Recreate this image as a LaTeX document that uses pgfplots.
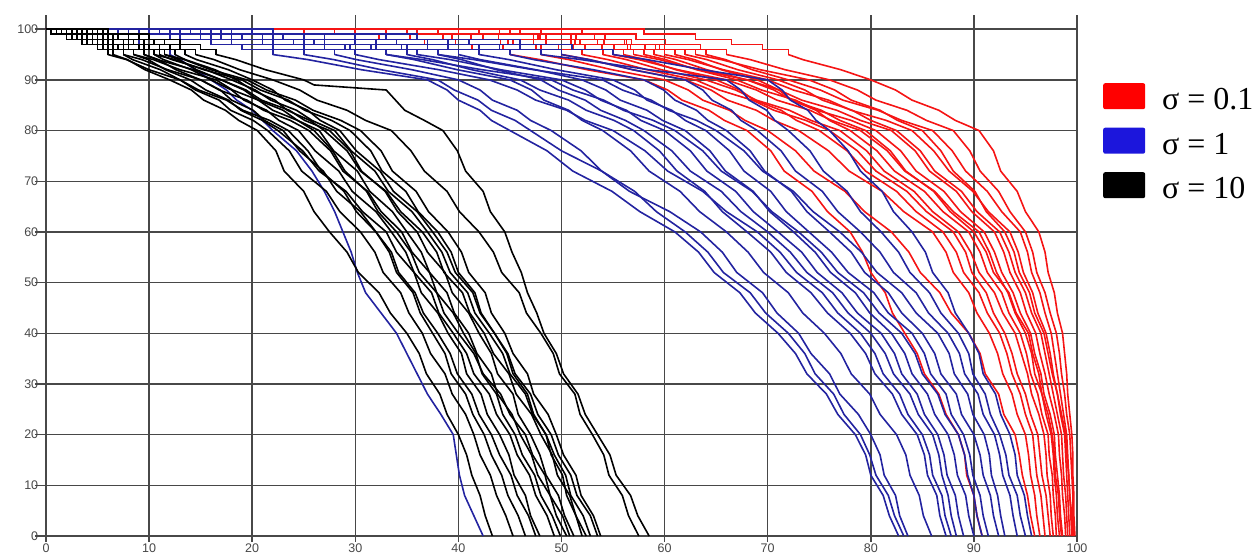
\documentclass[border=0pt]{standalone}
\usepackage{fontspec}
\setmainfont{Liberation Sans}
\newfontfamily\legfont{Liberation Serif}
\usepackage{pgfplots}
\pgfplotsset{compat=1.18}
\definecolor{linered}{RGB}{245,20,20}
\definecolor{lineblue}{RGB}{35,35,160}
\definecolor{legred}{RGB}{255,0,0}
\definecolor{legblue}{RGB}{28,22,220}
\definecolor{gridc}{RGB}{72,72,72}
\pgfplotsset{
 rt/.style={const plot, linered, line width=1.6pt, forget plot},
 rb/.style={sharp plot, linered, line width=1.6pt, forget plot, line join=round},
 bt/.style={const plot, lineblue, line width=1.6pt, forget plot},
 bb/.style={sharp plot, lineblue, line width=1.6pt, forget plot, line join=round},
 kt/.style={const plot, black, line width=1.6pt, forget plot},
 kb/.style={sharp plot, black, line width=1.6pt, forget plot, line join=round},
}
\begin{document}
\begin{tikzpicture}
\begin{axis}[
 scale only axis, width=1031pt, height=521pt,
 xmin=0, xmax=100, ymin=0, ymax=102.8,
 xtick={0,10,...,100}, ytick={0,10,...,100},
 axis line style={draw=none},
 grid=major, major grid style={draw=gridc, line width=1.4pt},
 tick align=outside, xtick pos=bottom, ytick pos=left,
 major tick style={draw=gridc, line width=1.4pt},
 xtick style={/pgfplots/major tick length=6pt},
 ytick style={/pgfplots/major tick length=11pt},
 /pgf/number format/assume math mode=true,
 ticklabel style={font=\fontsize{12.5}{14}\selectfont, text=black!72},
 legend image code/.code={\fill[#1, rounded corners=2pt] (0pt,-11pt) rectangle (42pt,15pt);},
 legend cell align=left,
 legend style={draw=none, fill=none, at={(axis description cs:1.0252,0.8695)}, anchor=north west,
   inner sep=0pt, nodes={inner sep=0pt, text height=23pt, text depth=0pt}, row sep=18pt, column sep=17pt,
   font=\legfont\fontsize{32}{36}\selectfont},
]
\addlegendimage{fill=legred, draw=none}
\addlegendentry{σ = 0.1}
\addlegendimage{fill=legblue, draw=none}
\addlegendentry{σ = 1}
\addlegendimage{fill=black, draw=none}
\addlegendentry{σ = 10}

% ---------- sigma = 0.1 (red) ----------
\addplot[rt] coordinates {(0,100)(58,99)(63,98)(66.5,97)(69.5,96)(72,95)};
\addplot[rb] coordinates {(72,95)(73.4,94)(77.1,92)(80,90)(82.4,88)(84,86)(86.6,84)(88.2,82)(90.5,80)(91.9,76)(92.6,72)(94.2,68)(95,64)(96.3,60)(96.9,56)(97.2,52)(97.8,48)(98.1,44)(98.6,40)(98.8,36)(99,32)(99.1,28)(99.3,24)(99.5,20)(99.6,16)(99.6,12)(99.7,8)(99.7,4)(99.8,0)};
\addplot[rt] coordinates {(0,100)(52,99)(57.2,98)(60.1,97)(63.5,96)(66,95)};
\addplot[rb] coordinates {(66,95)(68.3,94)(71.7,92)(76,90)(78.7,88)(80.5,86)(83.5,84)(85.4,82)(88,80)(89.6,76)(90.6,72)(92.4,68)(93.5,64)(95,60)(95.7,56)(96.1,52)(96.9,48)(97.4,44)(98,40)(98.3,36)(98.5,32)(98.8,28)(99,24)(99.3,20)(99.4,16)(99.5,12)(99.6,8)(99.6,4)(99.7,0)};
\addplot[rt] coordinates {(0,100)(45,99)(51.4,98)(56.8,97)(60,96)(64,95)};
\addplot[rb] coordinates {(64,95)(65.9,94)(68.5,92)(72,90)(75.1,88)(77.3,86)(80.7,84)(83,82)(86,80)(87.9,76)(89.2,72)(91.3,68)(92.7,64)(94.5,60)(95.2,56)(95.6,52)(96.4,48)(96.9,44)(97.5,40)(97.8,36)(98.1,32)(98.4,28)(98.7,24)(99,20)(99.1,16)(99.2,12)(99.3,8)(99.4,4)(99.5,0)};
\addplot[rt] coordinates {(0,100)(40,99)(47.3,98)(51.8,97)(56.4,96)(60,95)};
\addplot[rb] coordinates {(60,95)(62.3,94)(65.7,92)(70,90)(72.5,88)(75.9,86)(78.1,84)(81.5,82)(84,80)(86.1,76)(87.6,72)(89.9,68)(91.4,64)(93.5,60)(94.3,56)(94.8,52)(95.7,48)(96.2,44)(97,40)(97.4,36)(97.7,32)(98.1,28)(98.4,24)(98.8,20)(98.9,16)(99,12)(99.1,8)(99.2,4)(99.3,0)};
\addplot[rt] coordinates {(0,100)(48,99)(53.2,98)(56.1,97)(59.5,96)(62,95)};
\addplot[rb] coordinates {(62,95)(64.1,94)(67.1,92)(71,90)(73.6,88)(75.3,86)(78.2,84)(80,82)(82.5,80)(84.8,76)(86.2,72)(88.8,68)(90.3,64)(92.5,60)(93.4,56)(94,52)(95,48)(95.6,44)(96.5,40)(96.9,36)(97.3,32)(97.7,28)(98.1,24)(98.5,20)(98.6,16)(98.7,12)(98.9,8)(99,4)(99.1,0)};
\addplot[rt] coordinates {(0,100)(35,99)(42.4,98)(48.5,97)(52.3,96)(57,95)};
\addplot[rb] coordinates {(57,95)(59.5,94)(63.3,92)(68,90)(71.1,88)(73.3,86)(76.7,84)(79,82)(82,80)(84.3,76)(85.7,72)(88.3,68)(89.8,64)(92,60)(92.9,56)(93.5,52)(94.5,48)(95.1,44)(96,40)(96.4,36)(96.9,32)(97.3,28)(97.8,24)(98.2,20)(98.3,16)(98.5,12)(98.6,8)(98.8,4)(98.9,0)};
\addplot[rt] coordinates {(0,100)(42,99)(47.9,98)(51.3,97)(55.1,96)(58,95)};
\addplot[rb] coordinates {(58,95)(60.1,94)(63.1,92)(67,90)(69.4,88)(72.7,86)(74.8,84)(78.1,82)(80.5,80)(82.9,76)(84.4,72)(87.1,68)(88.7,64)(91,60)(92,56)(92.7,52)(93.8,48)(94.5,44)(95.5,40)(95.9,36)(96.5,32)(96.8,28)(97.4,24)(97.8,20)(97.9,16)(98.1,12)(98.3,8)(98.4,4)(98.6,0)};
\addplot[rt] coordinates {(0,100)(30,99)(38.5,98)(45.3,97)(49.7,96)(55,95)};
\addplot[rb] coordinates {(55,95)(57.5,94)(61.3,92)(66,90)(68.9,88)(70.9,86)(74.1,84)(76.2,82)(79,80)(81.6,76)(83.3,72)(86.2,68)(88,64)(90.5,60)(91.5,56)(92.2,52)(93.3,48)(94,44)(95,40)(95.6,36)(95.9,32)(96.6,28)(97,24)(97.5,20)(97.7,16)(97.8,12)(98,8)(98.1,4)(98.3,0)};
\addplot[rt] coordinates {(0,100)(50,99)(54.2,98)(56.3,97)(59.1,96)(61,95)};
\addplot[rb] coordinates {(61,95)(62.9,94)(65.5,92)(69,90)(71.1,88)(72.3,86)(74.7,84)(76,82)(78,80)(80.6,76)(82.3,72)(85.2,68)(87,64)(89.5,60)(90.6,56)(91.3,52)(92.7,48)(93.4,44)(94.5,40)(95.1,36)(95.5,32)(96.2,28)(96.6,24)(97.2,20)(97.3,16)(97.6,12)(97.7,8)(97.9,4)(98,0)};
\addplot[rt] coordinates {(0,100)(38,99)(43.9,98)(47.3,97)(51.1,96)(54,95)};
\addplot[rb] coordinates {(54,95)(56.3,94)(59.7,92)(64,90)(66.9,88)(68.9,86)(72.1,84)(74.2,82)(77,80)(79.6,76)(81.3,72)(84.2,68)(86,64)(88.5,60)(89.7,56)(90.5,52)(92,48)(92.8,44)(94,40)(94.6,36)(95.2,32)(95.6,28)(96.3,24)(96.8,20)(97,16)(97.1,12)(97.4,8)(97.5,4)(97.7,0)};
\addplot[rt] coordinates {(0,100)(33,99)(39.4,98)(44.8,97)(48,96)(52,95)};
\addplot[rb] coordinates {(52,95)(54.5,94)(58.3,92)(63,90)(65.3,88)(68.5,86)(70.6,84)(73.7,82)(76,80)(78.7,76)(80.5,72)(83.5,68)(85.4,64)(88,60)(89.2,56)(89.8,52)(91.2,48)(91.9,44)(93,40)(93.7,36)(94.2,32)(95,28)(95.5,24)(96.2,20)(96.4,16)(96.6,12)(97,8)(97.2,4)(97.4,0)};
\addplot[rt] coordinates {(0,100)(44,99)(48.5,98)(50.9,97)(53.9,96)(56,95)};
\addplot[rb] coordinates {(56,95)(58.1,94)(61.1,92)(65,90)(67.3,88)(68.7,86)(71.3,84)(72.8,82)(75,80)(77.7,76)(79.5,72)(82.5,68)(84.4,64)(87,60)(88.3,56)(89,52)(90.5,48)(91.3,44)(92.5,40)(93.2,36)(93.7,32)(94.5,28)(95,24)(95.7,20)(95.9,16)(96.1,12)(96.5,8)(96.7,4)(96.9,0)};
\addplot[rt] coordinates {(0,100)(36,99)(41.2,98)(44.1,97)(47.5,96)(50,95)};
\addplot[rb] coordinates {(50,95)(52.7,94)(56.9,92)(62,90)(64.5,88)(66.1,86)(68.9,84)(70.6,82)(73,80)(75.9,76)(77.9,72)(81.1,68)(83.2,64)(86,60)(87.3,56)(88,52)(89.5,48)(90.3,44)(91.5,40)(92.3,36)(92.8,32)(93.7,28)(94.2,24)(95,20)(95.3,16)(95.5,12)(95.9,8)(96.1,4)(96.4,0)};
\addplot[rt] coordinates {(0,100)(28,99)(35.3,98)(39.7,97)(44.3,96)(48,95)};
\addplot[rb] coordinates {(48,95)(50.7,94)(54.9,92)(60,90)(62.3,88)(63.7,86)(66.3,84)(67.8,82)(70,80)(72.7,76)(74.5,72)(77.5,68)(79.4,64)(82,60)(83.7,56)(84.8,52)(86.7,48)(87.8,44)(89.5,40)(90.6,36)(91.1,32)(92.4,28)(92.9,24)(94,20)(94.4,16)(94.7,12)(95.2,8)(95.5,4)(95.9,0)};
\addplot[rt] coordinates {(0,100)(25,99)(32.3,98)(36.7,97)(41.3,96)(45,95)};
\addplot[rb] coordinates {(45,95)(47.9,94)(52.5,92)(58,90)(60.3,88)(61.7,86)(64.3,84)(65.8,82)(68,80)(70.3,76)(71.6,72)(74.3,68)(75.8,64)(78,60)(79.2,56)(80,52)(81.4,48)(82.1,44)(83.3,40)(84.5,36)(85.2,32)(86.6,28)(87.3,24)(88.5,20)(89.1,16)(89.3,12)(90,8)(90.3,4)(90.8,0)};
\addplot[rt] coordinates {(0,100)(46,99)(50.9,98)(53.5,97)(56.7,96)(59,95)};
\addplot[rb] coordinates {(59,95)(61.1,94)(64.1,92)(68,90)(70.6,88)(72.3,86)(75.2,84)(77,82)(79.5,80)(81.9,76)(83.4,72)(86.1,68)(87.7,64)(90,60)(91.2,56)(91.9,52)(93.4,48)(94.1,44)(95.3,40)(95.7,36)(96.3,32)(96.6,28)(97.2,24)(97.6,20)(97.8,16)(97.9,12)(98.2,8)(98.3,4)(98.5,0)};
\addplot[rt] coordinates {(0,100)(40,99)(47.7,98)(54.1,97)(58.1,96)(63,95)};
\addplot[rb] coordinates {(63,95)(65.5,94)(69.3,92)(74,90)(76.5,88)(78.1,86)(80.9,84)(82.6,82)(85,80)(86.8,76)(88,72)(90.1,68)(91.2,64)(93,60)(93.9,56)(94.4,52)(95.4,48)(95.9,44)(96.8,40)(97.2,36)(97.6,32)(98.1,28)(98.5,24)(98.9,20)(99,16)(99.2,12)(99.3,8)(99.5,4)(99.6,0)};

% ---------- sigma = 1 (blue) ----------
\addplot[bt] coordinates {(0,100)(7,99)(12,98)(16,97)(19,96)(22,95)};
\addplot[bb] coordinates {(22,95)(25.4,94)(30.6,92)(37,90)(38.9,88)(40,86)(42.1,84)(43.2,82)(45,80)(48.6,76)(51.1,72)(54.9,68)(57.6,64)(61,60)(63.3,56)(64.8,52)(67.3,48)(68.8,44)(71,40)(72.7,36)(73.8,32)(75.7,28)(76.8,24)(78.5,20)(79.5,16)(80,12)(81.2,8)(81.8,4)(82.7,0)};
\addplot[bt] coordinates {(0,100)(9,99)(16,98)(21,97)(25,96)(28,95)};
\addplot[bb] coordinates {(28,95)(30.1,94)(35.5,92)(40,90)(42.1,88)(43.3,86)(45.7,84)(47,82)(49,80)(51.9,76)(53.9,72)(57.1,68)(59.2,64)(62,60)(64.2,56)(65.7,52)(68.3,48)(69.8,44)(72,40)(73.6,36)(74.6,32)(76.4,28)(77.4,24)(79,20)(79.9,16)(80.5,12)(81.7,8)(82.3,4)(83.2,0)};
\addplot[bt] coordinates {(0,100)(6,99)(13,98)(18,97)(22,96)(25,95)};
\addplot[bb] coordinates {(25,95)(27.9,94)(32.5,92)(38,90)(39.6,88)(41.9,86)(43.2,84)(45.5,82)(47,80)(50,76)(53.9,72)(56.6,68)(60.5,64)(63.5,60)(65.6,56)(67,52)(69.5,48)(70.9,44)(73,40)(74.2,36)(76,32)(77,28)(78.8,24)(80,20)(80.9,16)(81.3,12)(82.4,8)(82.8,4)(83.6,0)};
\addplot[bt] coordinates {(0,100)(11,99)(19,98)(25,97)(29.5,96)(33,95)};
\addplot[bb] coordinates {(33,95)(35.7,94)(39.9,92)(45,90)(47.1,88)(48.3,86)(50.7,84)(52,82)(54,80)(56.7,76)(58.5,72)(61.5,68)(63.4,64)(66,60)(68.1,56)(69.6,52)(72,48)(73.4,44)(75.5,40)(77.1,36)(78.1,32)(79.9,28)(80.9,24)(82.5,20)(83.4,16)(83.8,12)(84.7,8)(85.1,4)(85.9,0)};
\addplot[bt] coordinates {(0,100)(13,99)(21,98)(27,97)(31.5,96)(35,95)};
\addplot[bb] coordinates {(35,95)(37.5,94)(41.3,92)(46,90)(47.9,88)(50.7,86)(52.4,84)(55.1,82)(57,80)(59.5,76)(61.2,72)(63.9,68)(65.6,64)(68,60)(70.3,56)(71.8,52)(74.2,48)(75.8,44)(78,40)(79.5,36)(80.4,32)(82.1,28)(83,24)(84.5,20)(85.2,16)(85.5,12)(86.4,8)(86.7,4)(87.3,0)};
\addplot[bt] coordinates {(0,100)(8,99)(15,98)(22,97)(27,96)(30,95)};
\addplot[bb] coordinates {(30,95)(32.3,94)(38.1,92)(43,90)(45.7,88)(47.5,86)(50.5,84)(52.3,82)(55,80)(58.1,76)(60.3,72)(63.7,68)(66,64)(69,60)(71.2,56)(72.8,52)(75.3,48)(76.8,44)(79,40)(80.4,36)(81.2,32)(82.8,28)(83.6,24)(85,20)(85.7,16)(86,12)(86.9,8)(87.2,4)(87.8,0)};
\addplot[bt] coordinates {(0,100)(14,99)(23,98)(30,97)(34.5,96)(38,95)};
\addplot[bb] coordinates {(38,95)(40.3,94)(43.7,92)(48,90)(49.7,88)(52.3,86)(53.8,84)(56.2,82)(58,80)(60.7,76)(62.5,72)(65.5,68)(67.4,64)(70,60)(72.2,56)(73.8,52)(76.3,48)(77.8,44)(80,40)(81.4,36)(82.2,32)(83.8,28)(84.6,24)(86,20)(86.6,16)(86.9,12)(87.5,8)(87.8,4)(88.3,0)};
\addplot[bt] coordinates {(0,100)(10,99)(18,98)(26,97)(32,96)(36,95)};
\addplot[bb] coordinates {(36,95)(39.2,94)(44.1,92)(50,90)(52.3,88)(53.8,86)(56.3,84)(57.7,82)(60,80)(62.5,76)(64.1,72)(66.9,68)(68.6,64)(71,60)(73.3,56)(74.8,52)(77.2,48)(78.7,44)(81,40)(82.3,36)(83,32)(84.5,28)(85.2,24)(86.5,20)(87.1,16)(87.4,12)(88.2,8)(88.5,4)(89,0)};
\addplot[bt] coordinates {(0,100)(15,99)(25,98)(32,97)(37,96)(40,95)};
\addplot[bb] coordinates {(40,95)(42.1,94)(47.5,92)(52,90)(54.3,88)(55.7,86)(58.3,84)(59.8,82)(62,80)(64.4,76)(65.9,72)(68.6,68)(70.2,64)(72.5,60)(74.6,56)(76.1,52)(78.5,48)(79.9,44)(82,40)(83.3,36)(84,32)(85.5,28)(86.2,24)(87.5,20)(88.1,16)(88.4,12)(89.2,8)(89.5,4)(90,0)};
\addplot[bt] coordinates {(0,100)(9,99)(17,98)(24,97)(29,96)(33,95)};
\addplot[bb] coordinates {(33,95)(36.5,94)(42.3,92)(49,90)(51.1,88)(54.1,86)(56,84)(58.9,82)(61,80)(63.7,76)(65.5,72)(68.5,68)(70.4,64)(73,60)(75.2,56)(76.8,52)(79.3,48)(80.8,44)(83,40)(84.3,36)(85,32)(86.5,28)(87.2,24)(88.5,20)(89.1,16)(89.4,12)(90,8)(90.3,4)(90.8,0)};
\addplot[bt] coordinates {(0,100)(16,99)(27,98)(34,97)(39,96)(42,95)};
\addplot[bb] coordinates {(42,95)(44.9,94)(49.5,92)(55,90)(57.1,88)(58.3,86)(60.7,84)(62,82)(64,80)(66.3,76)(67.7,72)(70.3,68)(71.8,64)(74,60)(76.2,56)(77.8,52)(80.3,48)(81.7,44)(84,40)(85.2,36)(85.8,32)(87.3,28)(87.8,24)(89,20)(89.6,16)(89.9,12)(90.6,8)(90.9,4)(91.4,0)};
\addplot[bt] coordinates {(0,100)(18,99)(30,98)(37,97)(42,96)(45,95)};
\addplot[bb] coordinates {(45,95)(47.3,94)(53.1,92)(58,90)(59.9,88)(61,86)(63.1,84)(64.2,82)(66,80)(68.3,76)(69.7,72)(72.3,68)(73.8,64)(76,60)(78.1,56)(79.4,52)(81.7,48)(83,44)(85,40)(86.2,36)(86.8,32)(88.3,28)(88.8,24)(90,20)(90.6,16)(90.9,12)(91.6,8)(91.9,4)(92.4,0)};
\addplot[bt] coordinates {(0,100)(12,99)(22,98)(30,97)(35,96)(38,95)};
\addplot[bb] coordinates {(38,95)(41.5,94)(47.3,92)(54,90)(55.9,88)(58.7,86)(60.4,84)(63.1,82)(65,80)(67.7,76)(69.5,72)(72.5,68)(74.4,64)(77,60)(79.1,56)(80.6,52)(83,48)(84.4,44)(86.5,40)(87.6,36)(88.1,32)(89.4,28)(89.9,24)(91,20)(91.5,16)(91.7,12)(92.3,8)(92.6,4)(93,0)};
\addplot[bt] coordinates {(0,100)(20,99)(33,98)(41,97)(46,96)(50,95)};
\addplot[bb] coordinates {(50,95)(52.7,94)(56.9,92)(62,90)(63.7,88)(64.6,86)(66.5,84)(67.4,82)(69,80)(71.3,76)(72.7,72)(75.3,68)(76.8,64)(79,60)(80.9,56)(82.2,52)(84.4,48)(85.6,44)(87.5,40)(88.6,36)(89.1,32)(90.4,28)(90.9,24)(92,20)(92.5,16)(92.8,12)(93.5,8)(93.8,4)(94.2,0)};
\addplot[bt] coordinates {(0,100)(17,99)(30,98)(39,97)(44,96)(48,95)};
\addplot[bb] coordinates {(48,95)(51.9,94)(58.5,92)(66,90)(67.4,88)(68.2,86)(69.9,84)(70.7,82)(72,80)(74.1,76)(75.4,72)(77.7,68)(79,64)(81,60)(82.7,56)(83.8,52)(85.7,48)(86.8,44)(88.5,40)(89.5,36)(89.9,32)(91.1,28)(91.6,24)(92.5,20)(93.1,16)(93.4,12)(94.2,8)(94.5,4)(95,0)};
\addplot[bt] coordinates {(0,100)(22,99)(36,98)(46,97)(51,96)(55,95)};
\addplot[bb] coordinates {(55,95)(58.3,94)(63.7,92)(70,90)(71.4,88)(72.2,86)(73.9,84)(74.7,82)(76,80)(77.8,76)(79,72)(81.1,68)(82.2,64)(84,60)(85.3,56)(86,52)(87.5,48)(88.2,44)(89.5,40)(90.5,36)(90.9,32)(92.1,28)(92.6,24)(93.5,20)(94,16)(94.2,12)(94.9,8)(95.2,4)(95.6,0)};
\addplot[bt] coordinates {(0,100)(3,99)(6,98)(9,97)(11,96)(12,95)};
\addplot[bb] coordinates {(12,95)(13,94)(14.5,92)(16,90)(17.5,88)(18.5,86)(20,84)(21,82)(22,80)(24.3,76)(25.8,72)(27,68)(28,64)(28.8,60)(29.6,56)(30.2,52)(31,48)(32.5,44)(34,40)(35,36)(36,32)(37,28)(38.3,24)(39.5,20)(39.8,16)(40.1,12)(40.6,8)(41.5,4)(42.4,0)};

% ---------- sigma = 10 (black) ----------
\addplot[kt] coordinates {(0,100)(1,99)(2.5,98)(4,97)(5.5,96)(6.5,95)};
\addplot[kb] coordinates {(6.5,95)(7.9,94)(9.6,92)(12,90)(14.1,88)(15.3,86)(17.4,84)(18.7,82)(20.5,80)(22.3,76)(23.1,72)(25,68)(26,64)(27.5,60)(29.2,56)(30.3,52)(32.3,48)(33.4,44)(35,40)(36.2,36)(36.9,32)(38.2,28)(38.9,24)(40,20)(40.8,16)(41.3,12)(42.1,8)(42.6,4)(43.3,0)};
\addplot[kt] coordinates {(0,100)(1.5,99)(3,98)(4.5,97)(6,96)(7.5,95)};
\addplot[kb] coordinates {(7.5,95)(8.4,94)(11.1,92)(13,90)(14.5,88)(16.8,86)(17.9,84)(20.1,82)(21.5,80)(23.6,76)(24.8,72)(27.2,68)(28.5,64)(30.5,60)(31.9,56)(32.7,52)(34.4,48)(35.2,44)(36.5,40)(37.3,36)(38.7,32)(39.4,28)(40.7,24)(41.5,20)(42.1,16)(43.1,12)(43.7,8)(44.6,4)(45.3,0)};
\addplot[kt] coordinates {(0,100)(0.5,99)(2,98)(3.5,97)(5,96)(6,95)};
\addplot[kb] coordinates {(6,95)(7.8,94)(10,92)(13,90)(14.8,88)(17.5,86)(19.1,84)(21.7,82)(23.5,80)(25.4,76)(26.7,72)(28.9,68)(30.1,64)(32,60)(33.3,56)(34,52)(35.6,48)(36.3,44)(37.5,40)(38.7,36)(39.3,32)(40.7,28)(41.4,24)(42.5,20)(43.2,16)(44.2,12)(44.8,8)(45.8,4)(46.5,0)};
\addplot[kt] coordinates {(0,100)(3,99)(5,98)(6.5,97)(8,96)(9.5,95)};
\addplot[kb] coordinates {(9.5,95)(10.9,94)(12.6,92)(15,90)(16.9,88)(18,86)(20.1,84)(21.2,82)(23,80)(24.6,76)(26.9,72)(28.2,68)(30.5,64)(32,60)(33.5,56)(34.2,52)(35.8,48)(36.6,44)(38,40)(39.2,36)(39.9,32)(41.3,28)(42,24)(43.2,20)(44,16)(45.1,12)(45.7,8)(46.8,4)(47.5,0)};
\addplot[kt] coordinates {(0,100)(2,99)(4,98)(6,97)(7.5,96)(8.5,95)};
\addplot[kb] coordinates {(8.5,95)(9.9,94)(11.6,92)(14,90)(15.5,88)(17.7,86)(18.9,84)(21,82)(22.5,80)(24.9,76)(26.5,72)(29.1,68)(30.7,64)(33,60)(34,56)(35.7,52)(36.4,48)(38,44)(39,40)(40.3,36)(40.8,32)(42.2,28)(42.8,24)(44,20)(44.9,16)(45.4,12)(46.5,8)(47,4)(47.9,0)};
\addplot[kt] coordinates {(0,100)(3.5,99)(5.5,98)(7.5,97)(9,96)(10.5,95)};
\addplot[kb] coordinates {(10.5,95)(11.4,94)(14.1,92)(16,90)(18,88)(19.2,86)(21.4,84)(22.6,82)(24.5,80)(26.1,76)(28.4,72)(29.7,68)(32,64)(33.5,60)(34.9,56)(35.7,52)(37.4,48)(38.1,44)(39.5,40)(40.8,36)(41.5,32)(43,28)(43.7,24)(45,20)(45.7,16)(46.9,12)(47.5,8)(48.6,4)(49.3,0)};
\addplot[kt] coordinates {(0,100)(2,99)(3.5,98)(5,97)(6.5,96)(7.5,95)};
\addplot[kb] coordinates {(7.5,95)(9.3,94)(11.8,92)(15,90)(16.8,88)(19.5,86)(21.1,84)(23.7,82)(25.5,80)(27.6,76)(28.8,72)(31.2,68)(32.5,64)(34.5,60)(35.5,56)(37.2,52)(37.9,48)(39.5,44)(40.5,40)(41.7,36)(42.3,32)(43.7,28)(44.3,24)(45.5,20)(46.2,16)(47.4,12)(48,8)(49.1,4)(49.9,0)};
\addplot[kt] coordinates {(0,100)(4,99)(6.5,98)(8.5,97)(10,96)(11.5,95)};
\addplot[kb] coordinates {(11.5,95)(12.9,94)(14.6,92)(17,90)(19.2,88)(20.6,86)(23,84)(24.4,82)(26.5,80)(27.9,76)(30.2,72)(31.4,68)(33.6,64)(35,60)(36.4,56)(37.2,52)(38.9,48)(39.6,44)(41,40)(41.8,36)(43.2,32)(43.8,28)(45.2,24)(46,20)(47.1,16)(47.7,12)(48.9,8)(49.5,4)(50.5,0)};
\addplot[kt] coordinates {(0,100)(2.5,99)(4.5,98)(6.5,97)(8,96)(9.5,95)};
\addplot[kb] coordinates {(9.5,95)(10.8,94)(14.3,92)(17,90)(19.4,88)(20.9,86)(23.6,84)(25.1,82)(27.5,80)(29.5,76)(30.6,72)(32.9,68)(34.1,64)(36,60)(37,56)(38.7,52)(39.4,48)(41,44)(42,40)(43.2,36)(43.8,32)(45.3,28)(45.8,24)(47,20)(47.9,16)(48.5,12)(49.7,8)(50.3,4)(51.2,0)};
\addplot[kt] coordinates {(0,100)(4.5,99)(7,98)(9.5,97)(11,96)(12.5,95)};
\addplot[kb] coordinates {(12.5,95)(13.5,94)(16.4,92)(18.5,90)(20,88)(22.2,86)(23.4,84)(25.6,82)(27,80)(29.2,76)(30.5,72)(33,68)(34.4,64)(36.5,60)(37.9,56)(38.6,52)(40.4,48)(41.1,44)(42.5,40)(43.4,36)(44.9,32)(45.6,28)(47.1,24)(48,20)(49.1,16)(49.6,12)(50.8,8)(51.4,4)(52.4,0)};
\addplot[kt] coordinates {(0,100)(3,99)(5,98)(7.5,97)(9,96)(10.5,95)};
\addplot[kb] coordinates {(10.5,95)(12.5,94)(15.3,92)(19,90)(20.8,88)(23.5,86)(25.1,84)(27.7,82)(29.5,80)(31.5,76)(32.6,72)(34.9,68)(36.1,64)(38,60)(39.3,56)(40,52)(41.6,48)(42.2,44)(43.5,40)(44.7,36)(45.3,32)(46.7,28)(47.3,24)(48.5,20)(49.3,16)(50.4,12)(50.9,8)(52.1,4)(52.8,0)};
\addplot[kt] coordinates {(0,100)(5,99)(8,98)(10.5,97)(12,96)(13.5,95)};
\addplot[kb] coordinates {(13.5,95)(14.6,94)(17.7,92)(20,90)(22,88)(23.2,86)(25.4,84)(26.6,82)(28.5,80)(30.1,76)(32.4,72)(33.7,68)(36,64)(37.5,60)(38.9,56)(39.7,52)(41.4,48)(42.1,44)(43.5,40)(44.8,36)(45.5,32)(47,28)(47.7,24)(49,20)(49.7,16)(50.9,12)(51.5,8)(52.8,4)(53.5,0)};
\addplot[kt] coordinates {(0,100)(3.5,99)(6,98)(8.5,97)(10,96)(11.5,95)};
\addplot[kb] coordinates {(11.5,95)(13.4,94)(16,92)(19.5,90)(21.4,88)(24.2,86)(25.9,84)(28.6,82)(30.5,80)(32.5,76)(33.6,72)(35.9,68)(37.1,64)(39,60)(40.3,56)(41,52)(42.6,48)(43.2,44)(44.5,40)(45.3,36)(46.7,32)(47.3,28)(48.7,24)(49.5,20)(50.2,16)(51.4,12)(51.9,8)(53.1,4)(53.8,0)};
\addplot[kt] coordinates {(0,100)(5.5,99)(9,98)(11.5,97)(13,96)(14.5,95)};
\addplot[kb] coordinates {(14.5,95)(16.3,94)(18.8,92)(22,90)(24.6,88)(26.3,86)(29.2,84)(31,82)(33.5,80)(35.4,76)(36.7,72)(38.9,68)(40.1,64)(42,60)(43.4,56)(44.2,52)(45.9,48)(46.6,44)(48,40)(49.2,36)(49.8,32)(51.3,28)(51.8,24)(53,20)(54.1,16)(54.6,12)(55.9,8)(56.5,4)(57.5,0)};
\addplot[kt] coordinates {(0,100)(6,99)(10,98)(13,97)(15,96)(16.5,95)};
\addplot[kb] coordinates {(16.5,95)(18.4,94)(21.3,92)(25,90)(26,89)(33,88)(34.8,84)(36.7,82)(38.5,80)(39.9,76)(40.7,72)(42.4,68)(43.1,64)(44.5,60)(45.2,56)(46.1,52)(46.7,48)(47.6,44)(48.3,40)(49.5,36)(50.2,32)(51.6,28)(52.3,24)(53.5,20)(54.7,16)(55.3,12)(56.7,8)(57.4,4)(58.5,0)};
\addplot[kt] coordinates {(0,100)(1.5,99)(3.5,98)(5.5,97)(7,96)(8.5,95)};
\addplot[kb] coordinates {(8.5,95)(10.4,94)(13,92)(16.5,90)(18.1,88)(20.6,86)(22,84)(24.4,82)(26,80)(27.8,76)(29,72)(31.1,68)(32.2,64)(34,60)(35.4,56)(36.2,52)(37.9,48)(38.6,44)(40,40)(41.5,36)(42.4,32)(44.1,28)(45,24)(46.5,20)(47.2,16)(48.4,12)(48.9,8)(50.1,4)(50.8,0)};
\addplot[kt] coordinates {(0,100)(3,99)(6,98)(8,97)(9.5,96)(11,95)};
\addplot[kb] coordinates {(11,95)(12.2,94)(15.5,92)(18,90)(20.3,88)(21.8,86)(24.3,84)(25.8,82)(28,80)(29.6,76)(31.9,72)(33.2,68)(35.5,64)(37,60)(38.4,56)(39.2,52)(40.9,48)(41.6,44)(43,40)(44.3,36)(45,32)(46.5,28)(47.2,24)(48.5,20)(49,16)(50.1,12)(50.5,8)(51.4,4)(52,0)};
\end{axis}
\pgfresetboundingbox
\path[use as bounding box] (-46pt,-22pt) rectangle (1213pt,536pt);
\end{tikzpicture}
\end{document}
